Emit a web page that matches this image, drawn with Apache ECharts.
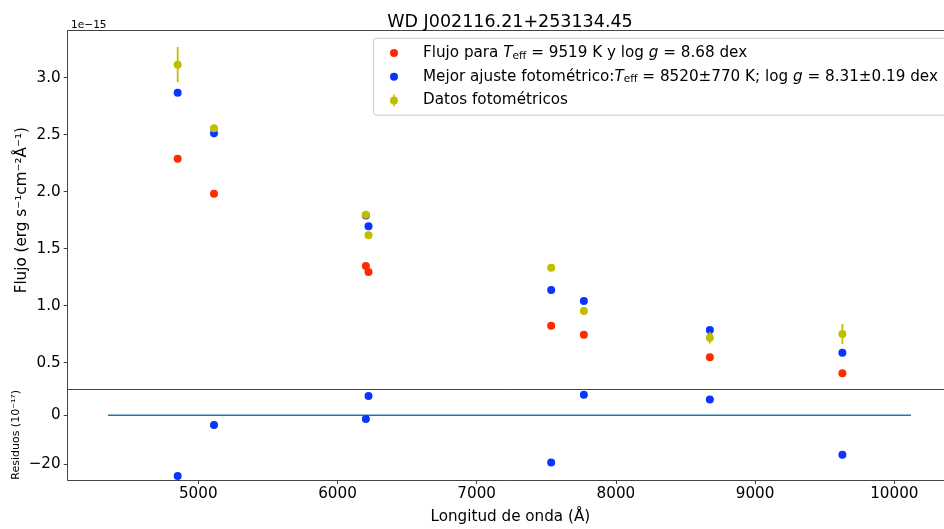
<!DOCTYPE html>
<html>
<head>
<meta charset="utf-8">
<script src="https://cdn.jsdelivr.net/npm/echarts@6/dist/echarts.min.js"></script>
<style>
html,body{margin:0;padding:0;background:#fff;}
#c{width:944px;height:529px;}
</style>
</head>
<body>
<div id="c"></div>
<script>
// Wavelengths (Å)
const wavelengths = [4852, 5113, 6204, 6223, 7535, 7770, 8675, 9627];
// Fluxes in units of 1e-15 erg s^-1 cm^-2 Å^-1
const fluxModel = [2.289, 1.982, 1.348, 1.296, 0.825, 0.746, 0.547, 0.407]; // red
const fluxFit   = [2.868, 2.512, 1.790, 1.696, 1.138, 1.041, 0.787, 0.588]; // blue
const fluxObs   = [3.114, 2.556, 1.798, 1.617, 1.333, 0.953, 0.719, 0.752]; // yellow
const fluxErr   = [0.155, 0.020, 0.020, 0.020, 0.020, 0.030, 0.050, 0.088];
// Residuals in units of 1e-17
const residuals = [-24.8, -4.0, -1.5, 7.9, -19.3, 8.4, 6.5, -16.1];
const zeroLineX = [4351, 10120];
// Tick labels
const xTicks = [5000, 6000, 7000, 8000, 9000, 10000];
const yTopTicks = [0.5, 1.0, 1.5, 2.0, 2.5, 3.0];
const yBotTicks = [-20, 0];

const nameModel = 'modelo';
const nameFit = 'ajuste';
const nameObs = 'datos';
const legendText = {
  modelo: '{g|}{t|Flujo para }{i|T}{s|eff}{t| = 9519 K y log }{i|g}{t| = 8.68 dex}',
  ajuste: '{g|}{t|Mejor ajuste fotométrico:}{i|T}{s|eff}{t| = 8520±770 K; log }{i|g}{t| = 8.31±0.19 dex}',
  datos: '{g|}{t|Datos fotométricos}'
};

const RED = '#ff2a00', BLUE = '#0a35ff', YEL = '#bfbf00';
const FONT = 'DejaVu Sans';
const FS = 15.2;
const AX = '#444';

const X0 = 4062, X1 = 10357;
const circleIcon = 'path://M0,0L0,0M8,12L8,12M0,6a4,4 0 1,1 8,0a4,4 0 1,1 -8,0z';
const errIcon = 'path://M3.25,0h1.5v12h-1.5zM0,6a4,4 0 1,1 8,0a4,4 0 1,1 -8,0z';

const chart = echarts.init(document.getElementById('c'), null, {renderer:'canvas'});
const pts = arr => wavelengths.map((w,i)=>[w, arr[i]]);
const spine = {show: true, onZero: false, lineStyle: {color: AX, width: 1}};

chart.setOption({
  animation: false,
  backgroundColor: '#fff',
  textStyle: {fontFamily: FONT},
  title: [
    {text: 'WD J002116.21+253134.45', left: 505, top: 8, textAlign: 'center',
     textStyle: {fontFamily: FONT, fontSize: 17.5, fontWeight: 'normal', color: '#000'}},
    {text: '1e\u221215', left: 66, top: 15,
     textStyle: {fontFamily: FONT, fontSize: 10.6, fontWeight: 'normal', color: '#000'}}
  ],
  legend: {
    orient: 'vertical',
    left: 373.5, top: 38.3,
    padding: [6.5, 60, 6.5, 16.5],
    itemWidth: 8, itemHeight: 12,
    itemGap: 7.2,
    borderColor: '#cccccc', borderWidth: 1, borderRadius: 3,
    backgroundColor: 'rgba(255,255,255,0.8)',
    data: [
      {name: nameModel, icon: circleIcon},
      {name: nameFit, icon: circleIcon},
      {name: nameObs, icon: errIcon}
    ],
    formatter: n => legendText[n],
    textStyle: {
      fontFamily: FONT, fontSize: FS, color: '#000', lineHeight: 16.5,
      rich: {
        g: {width: 20, lineHeight: 16.5},
        t: {fontFamily: FONT, fontSize: FS, lineHeight: 16.5, color: '#000'},
        i: {fontFamily: FONT, fontSize: FS, lineHeight: 16.5, fontStyle: 'italic', color: '#000'},
        s: {fontFamily: FONT, fontSize: 10.6, lineHeight: 8, verticalAlign: 'bottom', color: '#000'}
      }
    },
    selectedMode: false
  },
  grid: [
    {left: 67.7, top: 30.7, width: 876.3, height: 359, show: false, containLabel: false},
    {left: 67.7, top: 389.7, width: 876.3, height: 90.3, show: false, containLabel: false}
  ],
  xAxis: [
    {type: 'value', gridIndex: 0, min: X0, max: X1, position: 'bottom',
     axisLine: spine, axisTick: {show: false}, axisLabel: {show: false}, splitLine: {show: false}},
    {type: 'value', gridIndex: 1, min: X0, max: X1, position: 'bottom',
     name: 'Longitud de onda (Å)', nameLocation: 'middle', nameGap: 30, nameMoveOverlap: false,
     nameTextStyle: {fontFamily: FONT, fontSize: FS, color: '#000', padding: [0, 0, 0, 9]},
     axisLine: spine,
     axisTick: {show: true, length: 4, customValues: xTicks, lineStyle: {color: AX, width: 1}},
     axisLabel: {show: true, customValues: xTicks, margin: 7, fontFamily: FONT, fontSize: FS, color: '#000',
                 formatter: v => String(v)},
     splitLine: {show: false}},
    {type: 'value', gridIndex: 0, min: X0, max: X1, position: 'top',
     axisLine: spine, axisTick: {show: false}, axisLabel: {show: false}, splitLine: {show: false}}
  ],
  yAxis: [
    {type: 'value', gridIndex: 0, min: 0.263, max: 3.412,
     name: 'Flujo (erg s\u207B\u00B9cm\u207B\u00B2Å\u207B\u00B9)', nameLocation: 'middle', nameGap: 38,
     nameMoveOverlap: false,
     nameTextStyle: {fontFamily: FONT, fontSize: FS, color: '#000'},
     axisLine: spine,
     axisTick: {show: true, length: 4, customValues: yTopTicks, lineStyle: {color: AX, width: 1}},
     axisLabel: {show: true, customValues: yTopTicks, margin: 7, fontFamily: FONT, fontSize: FS, color: '#000',
                 formatter: v => v.toFixed(1)},
     splitLine: {show: false}},
    {type: 'value', gridIndex: 1, min: -26.4, max: 10.45,
     name: 'Residuos (10\u207B\u00B9\u2077)', nameLocation: 'middle', nameGap: 46,
     nameMoveOverlap: false,
     nameTextStyle: {fontFamily: FONT, fontSize: 11, color: '#000'},
     axisLine: spine,
     axisTick: {show: true, length: 4, customValues: yBotTicks, lineStyle: {color: AX, width: 1}},
     axisLabel: {show: true, customValues: yBotTicks, margin: 7, fontFamily: FONT, fontSize: FS, color: '#000',
                 formatter: v => (v < 0 ? '\u2212' + Math.abs(v) : String(v))},
     splitLine: {show: false}}
  ],
  series: [
    {name: nameModel, type: 'scatter', xAxisIndex: 0, yAxisIndex: 0, symbol: 'circle', symbolSize: 8,
     itemStyle: {color: RED, opacity: 1}, data: pts(fluxModel), z: 2},
    {name: nameFit, type: 'scatter', xAxisIndex: 0, yAxisIndex: 0, symbol: 'circle', symbolSize: 8,
     itemStyle: {color: BLUE, opacity: 1}, data: pts(fluxFit), z: 3},
    {name: 'errbar', type: 'custom', xAxisIndex: 0, yAxisIndex: 0, z: 4,
     data: wavelengths.map((w,i)=>[w, fluxObs[i]-fluxErr[i], fluxObs[i]+fluxErr[i]]),
     encode: {x: 0, y: [1, 2]},
     renderItem: (params, api) => {
       const p1 = api.coord([api.value(0), api.value(1)]);
       const p2 = api.coord([api.value(0), api.value(2)]);
       return {type: 'line', shape: {x1: p1[0], y1: p1[1], x2: p2[0], y2: p2[1]},
               style: {stroke: YEL, lineWidth: 1.8}};
     }},
    {name: nameObs, type: 'scatter', xAxisIndex: 0, yAxisIndex: 0, symbol: 'circle', symbolSize: 8,
     itemStyle: {color: YEL, opacity: 1}, data: pts(fluxObs), z: 5},
    {name: 'cero', type: 'line', xAxisIndex: 1, yAxisIndex: 1, showSymbol: false, symbol: 'none',
     lineStyle: {color: '#1f77b4', width: 1.5}, data: zeroLineX.map(x => [x, 0]), z: 2},
    {name: 'residuos', type: 'scatter', xAxisIndex: 1, yAxisIndex: 1, symbol: 'circle', symbolSize: 8,
     itemStyle: {color: BLUE, opacity: 1}, data: pts(residuals), z: 3}
  ]
});
</script>
</body>
</html>
